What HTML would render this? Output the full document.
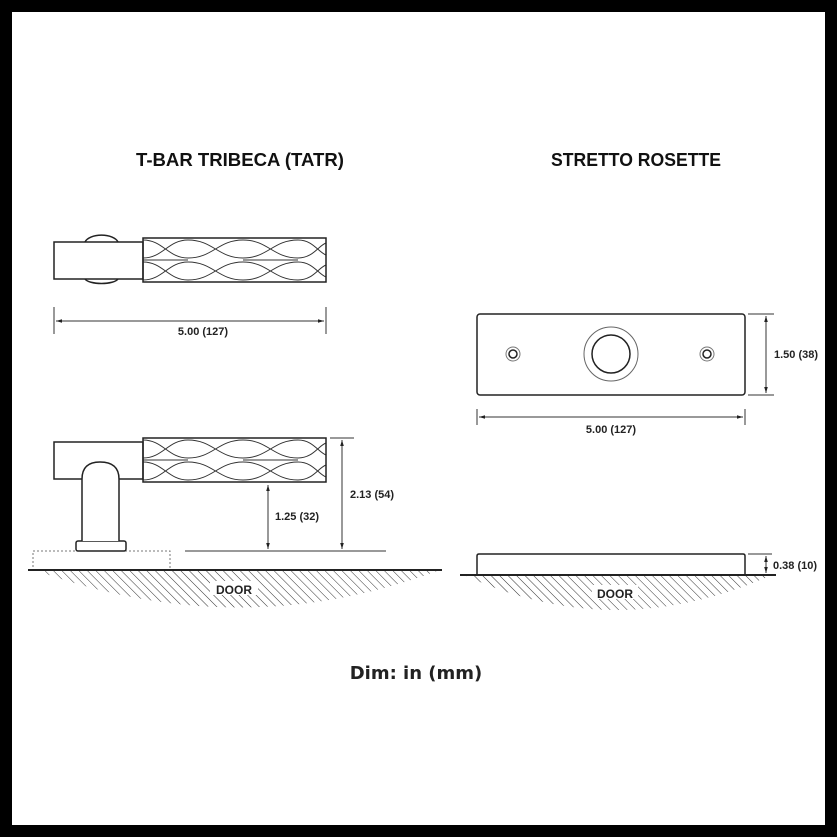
<!DOCTYPE html>
<html><head><meta charset="utf-8"><style>
html,body{margin:0;padding:0;background:#000;}
svg{display:block;}
</style></head><body>
<svg width="837" height="837" viewBox="0 0 837 837" xmlns="http://www.w3.org/2000/svg">
<defs>
<pattern id="hatch" patternUnits="userSpaceOnUse" width="6" height="6" patternTransform="rotate(-45)">
<line x1="0" y1="0" x2="0" y2="6" stroke="#333" stroke-width="1"/>
</pattern>
<marker id="ar" viewBox="0 0 10 10" refX="10" refY="5" markerWidth="6" markerHeight="6" orient="auto-start-reverse">
<path d="M0,2 L10,5 L0,8 Z" fill="#222"/>
</marker>
<g id="knurl" fill="none" stroke="#333" stroke-width="1">
<path d="M0,2 C20,2 25,20 45,20 C70,20 75,2 100,2 C125,2 130,20 155,20 C170,20 175,8 183,5"/>
<path d="M0,20 C20,20 25,2 45,2 C70,2 75,20 100,20 C125,20 130,2 155,2 C170,2 175,14 183,17"/>
<path d="M0,24 C20,24 25,42 45,42 C70,42 75,24 100,24 C125,24 130,42 155,42 C170,42 175,30 183,27"/>
<path d="M0,42 C20,42 25,24 45,24 C70,24 75,42 100,42 C125,42 130,24 155,24 C170,24 175,36 183,39"/>
<path d="M0,22 C15,22 30,22 45,22 M100,22 L155,22" />
<rect x="0" y="0" width="183" height="44" stroke="#222" stroke-width="1.5"/>
</g>
</defs>
<rect x="12" y="12" width="813" height="813" fill="#fff"/>

<g font-family="'Liberation Sans',sans-serif" font-weight="bold" fill="#111">
<text x="240" y="166" font-size="18" text-anchor="middle" textLength="208" lengthAdjust="spacingAndGlyphs">T-BAR TRIBECA (TATR)</text>
<text x="636" y="166" font-size="18" text-anchor="middle" textLength="170" lengthAdjust="spacingAndGlyphs">STRETTO ROSETTE</text>
</g>

<g fill="none" stroke="#222" stroke-width="1.5">
<path d="M85,242 A17,9 0 0 1 118,242"/>
<path d="M85,279 A17,6 0 0 0 118,279"/>
<rect x="54" y="242" width="89" height="37" fill="#fff"/>
</g>
<use href="#knurl" x="143" y="238"/>
<g stroke="#333" stroke-width="1" fill="none">
<line x1="54" y1="307" x2="54" y2="334"/>
<line x1="326" y1="307" x2="326" y2="334"/>
<line x1="56" y1="321" x2="324" y2="321" marker-start="url(#ar)" marker-end="url(#ar)"/>
</g>

<g fill="#fff" stroke="#222" stroke-width="1.5">
<rect x="33" y="551" width="137" height="19" stroke="#777" stroke-width="1" stroke-dasharray="2,2"/>
<rect x="54" y="442" width="89" height="37"/>
<rect x="76" y="541" width="50" height="10" rx="2"/>
</g>
<path d="M82,541 L82,479 Q82,462 100,462 Q119,462 119,479 L119,541 Z" fill="#fff" stroke="none"/>
<path d="M82,541 L82,479 Q82,462 100,462 Q119,462 119,479 L119,541" fill="none" stroke="#222" stroke-width="1.5"/>
<use href="#knurl" x="143" y="438"/>
<g stroke="#333" stroke-width="1" fill="none">
<line x1="185" y1="551" x2="386" y2="551"/>
<line x1="330" y1="438" x2="354" y2="438"/>
<line x1="268" y1="485" x2="268" y2="549" marker-start="url(#ar)" marker-end="url(#ar)"/>
<line x1="342" y1="440" x2="342" y2="549" marker-start="url(#ar)" marker-end="url(#ar)"/>
</g>
<path d="M35,570 L440,570 Q240,645 35,570 Z" fill="url(#hatch)"/>
<line x1="28" y1="570" x2="442" y2="570" stroke="#222" stroke-width="2"/>

<g fill="none" stroke="#222" stroke-width="1.5">
<rect x="477" y="314" width="268" height="81" rx="3"/>
<circle cx="513" cy="354" r="7" stroke="#777" stroke-width="1"/>
<circle cx="513" cy="354" r="4"/>
<circle cx="707" cy="354" r="7" stroke="#777" stroke-width="1"/>
<circle cx="707" cy="354" r="4"/>
<circle cx="611" cy="354" r="27" stroke="#666" stroke-width="1"/>
<circle cx="611" cy="354" r="19"/>
</g>
<g stroke="#333" stroke-width="1" fill="none">
<line x1="748" y1="314" x2="774" y2="314"/>
<line x1="748" y1="395" x2="774" y2="395"/>
<line x1="766" y1="316" x2="766" y2="393" marker-start="url(#ar)" marker-end="url(#ar)"/>
<line x1="477" y1="409" x2="477" y2="425"/>
<line x1="745" y1="409" x2="745" y2="425"/>
<line x1="479" y1="417" x2="743" y2="417" marker-start="url(#ar)" marker-end="url(#ar)"/>
</g>

<path d="M464,575 L772,575 Q615,645 464,575 Z" fill="url(#hatch)"/>
<path d="M477,575 L477,556 Q477,554 479,554 L743,554 Q745,554 745,556 L745,575" fill="#fff" stroke="#222" stroke-width="1.5"/>
<line x1="460" y1="575" x2="776" y2="575" stroke="#222" stroke-width="2"/>
<g stroke="#333" stroke-width="1" fill="none">
<line x1="748" y1="554" x2="772" y2="554"/>
<line x1="766" y1="556" x2="766" y2="573" marker-start="url(#ar)" marker-end="url(#ar)"/>
</g>

<g font-family="'Liberation Sans',sans-serif" font-weight="bold" fill="#222" font-size="11">
<text x="203" y="335" text-anchor="middle">5.00 (127)</text>
<text x="297" y="520" text-anchor="middle">1.25 (32)</text>
<text x="372" y="498" text-anchor="middle">2.13 (54)</text>
<text x="611" y="433" text-anchor="middle">5.00 (127)</text>
<text x="796" y="358" text-anchor="middle">1.50 (38)</text>
<text x="795" y="569" text-anchor="middle">0.38 (10)</text>
<rect x="210" y="581" width="48" height="14" fill="#fff"/>
<text x="234" y="594" text-anchor="middle" font-size="12">DOOR</text>
<rect x="592" y="585" width="46" height="14" fill="#fff"/>
<text x="615" y="598" text-anchor="middle" font-size="12">DOOR</text>
</g>

<text x="416" y="679" text-anchor="middle" font-family="'DejaVu Sans','Liberation Sans',sans-serif" font-weight="bold" font-size="18" fill="#222">Dim: in (mm)</text>
</svg>
</body></html>
